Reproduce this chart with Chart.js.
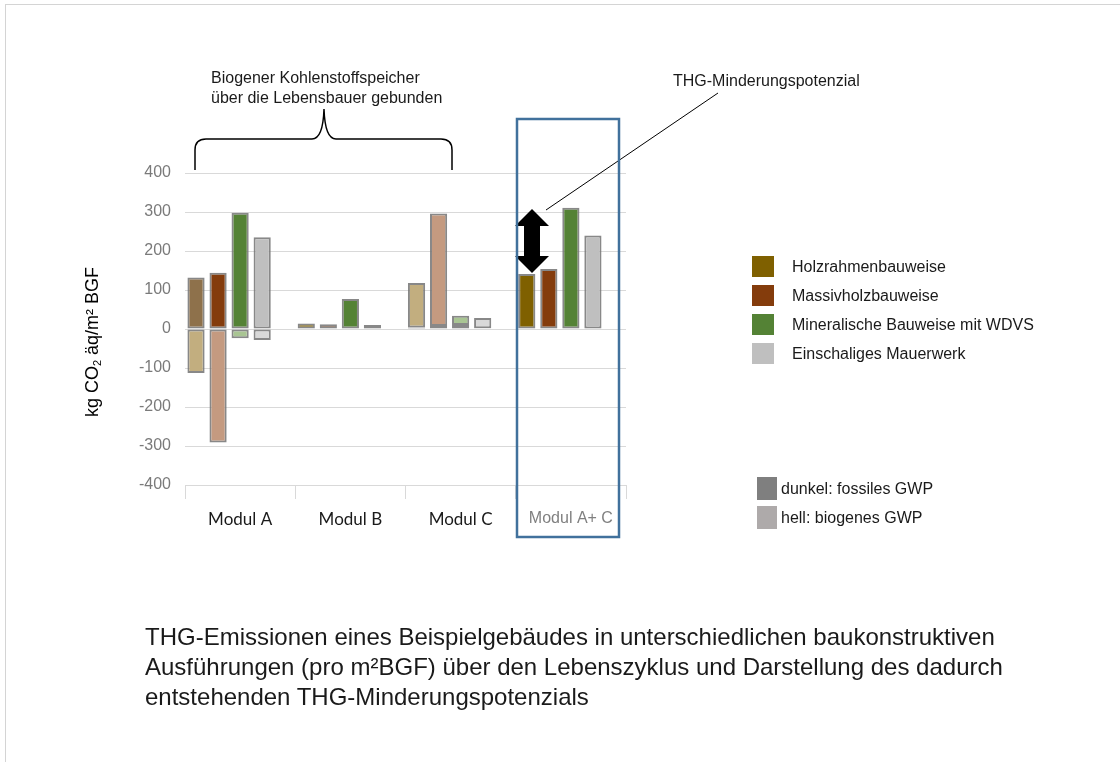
<!DOCTYPE html>
<html lang="de">
<head>
<meta charset="utf-8">
<title>THG-Emissionen Beispielgebäude</title>
<script src="https://cdn.jsdelivr.net/npm/chart.js@4.4.1/dist/chart.umd.min.js"></script>
<style>
  body { margin: 0; background: #fff; font-family: "Liberation Sans", Arial, sans-serif; }
  #wrap { position: relative; width: 1120px; height: 762px; overflow: hidden; }
  #frame { position: absolute; left: 5px; top: 4px; width: 1120px; height: 770px;
           border-top: 1px solid #d4d4d4; border-left: 1px solid #d4d4d4; }
  canvas { position: absolute; left: 0; top: 0; }
  .sw { position: absolute; }
  .lt { position: absolute; font-size: 16px; color: #1a1a1a; line-height: 20px; white-space: nowrap; }
  #caption { position: absolute; left: 145px; top: 622px; font-size: 24px; line-height: 30px; color: #1a1a1a; white-space: nowrap; }
</style>
</head>
<body>
<div id="wrap">
  <div id="frame"></div>
  <canvas id="chart" width="1120" height="762"></canvas>
  <div id="legend"></div>
  <div id="caption">THG-Emissionen eines Beispielgebäudes in unterschiedlichen baukonstruktiven<br>Ausführungen (pro m²BGF) über den Lebenszyklus und Darstellung des dadurch<br>entstehenden THG-Minderungspotenzials</div>
</div>
<script>
// data
var categories = ['Modul A', 'Modul B', 'Modul C', 'Modul A+ C'];
var materials = ['Holzrahmenbauweise', 'Massivholzbauweise', 'Mineralische Bauweise mit WDVS', 'Einschaliges Mauerwerk'];
var gwpKinds = ['dunkel: fossiles GWP', 'hell: biogenes GWP'];

var fossilHolz    = [132, 14, 4, 141];
var biogenHolz    = [-113, null, 114, null];
var fossilMassiv  = [144, 12, 8, 154];
var biogenMassiv  = [-291, null, 288, null];
var fossilMineral = [298, 77, 10, 311];
var biogenMineral = [-24, null, 24, null];
var fossilMauer   = [235, 10, 2, 240];
var biogenMauer   = [-28, null, 26, null];

var yMin = -400, yMax = 400, yStep = 100;

// colours
var darkCols = ['#7f6000', '#843c0c', '#548235', '#bfbfbf'];
var lightCols = ['#c2ae7f', '#c49a80', '#a9c593', '#d9d9d9'];
var holzDarkPerCat = ['#8e714b', '#7f6000', '#7f6000', '#7f6000'];
var edge = 'rgba(115,115,115,0.85)';

function bar(label, data, color, stack) {
  return {
    label: label, data: data, stack: stack,
    backgroundColor: color, borderColor: edge, borderWidth: 2, borderSkipped: false
  };
}

var datasets = [
  bar(materials[0] + ' fossil', fossilHolz, holzDarkPerCat, 'holz'),
  bar(materials[0] + ' biogen', biogenHolz, lightCols[0], 'holz'),
  bar(materials[1] + ' fossil', fossilMassiv, darkCols[1], 'massiv'),
  bar(materials[1] + ' biogen', biogenMassiv, lightCols[1], 'massiv'),
  bar(materials[2] + ' fossil', fossilMineral, darkCols[2], 'mineral'),
  bar(materials[2] + ' biogen', biogenMineral, lightCols[2], 'mineral'),
  bar(materials[3] + ' fossil', fossilMauer, darkCols[3], 'mauer'),
  bar(materials[3] + ' biogen', biogenMauer, lightCols[3], 'mauer'),
  // empty fifth slot, the original keeps a gap after each group
  { label: '', data: [null, null, null, null], stack: 'leer', borderWidth: 0 }
];

Chart.defaults.font.family = "'Liberation Sans', Arial, sans-serif";

var notes = {
  id: 'notes',
  afterDraw: function(chart) {
    var c = chart.ctx;
    c.save();

    // y axis title with subscript
    c.translate(93, 342);
    c.rotate(-Math.PI / 2);
    c.fillStyle = '#000';
    c.textBaseline = 'middle';
    var big = '18px "Liberation Sans", Arial, sans-serif';
    var small = '11px "Liberation Sans", Arial, sans-serif';
    c.font = big;
    var w1 = c.measureText('kg CO').width;
    var w3 = c.measureText(' äq/m² BGF').width;
    c.font = small;
    var w2 = c.measureText('2').width;
    var x0 = -(w1 + w2 + w3) / 2;
    c.font = big;
    c.fillText('kg CO', x0, 0);
    c.font = small;
    c.fillText('2', x0 + w1, 5);
    c.font = big;
    c.fillText(' äq/m² BGF', x0 + w1 + w2, 0);
    c.setTransform(1, 0, 0, 1, 0, 0);

    // curly bracket
    c.strokeStyle = '#000';
    c.lineWidth = 1.5;
    c.beginPath();
    c.moveTo(195, 170);
    c.lineTo(195, 150);
    c.quadraticCurveTo(195, 139, 206, 139);
    c.lineTo(312, 139);
    c.quadraticCurveTo(323, 139, 324, 109);
    c.quadraticCurveTo(325, 139, 336, 139);
    c.lineTo(441, 139);
    c.quadraticCurveTo(452, 139, 452, 150);
    c.lineTo(452, 170);
    c.stroke();

    c.font = '16px "Liberation Sans", Arial, sans-serif';
    c.textBaseline = 'alphabetic';
    c.fillStyle = '#1a1a1a';
    c.fillText('Biogener Kohlenstoffspeicher', 211, 83);
    c.fillText('über die Lebensbauer gebunden', 211, 103);
    c.fillText('THG-Minderungspotenzial', 673, 86);

    // pointer line
    c.lineWidth = 1;
    c.beginPath();
    c.moveTo(546, 210);
    c.lineTo(718, 93);
    c.stroke();

    // double arrow
    c.fillStyle = '#000';
    c.beginPath();
    var pts = [[532,209],[549,226],[540,226],[540,256],[549,256],[532,273],[515,256],[524,256],[524,226],[515,226]];
    c.moveTo(pts[0][0], pts[0][1]);
    for (var i = 1; i < pts.length; i++) c.lineTo(pts[i][0], pts[i][1]);
    c.closePath();
    c.fill();

    // blue frame round A+C
    c.strokeStyle = '#41719c';
    c.lineWidth = 2.5;
    c.strokeRect(517, 119, 102, 418);
    c.restore();
  }
};

var chart = new Chart(document.getElementById('chart').getContext('2d'), {
  type: 'bar',
  data: { labels: categories, datasets: datasets },
  options: {
    responsive: false,
    animation: false,
    devicePixelRatio: 1,
    datasets: { bar: { categoryPercentage: 1.0, barPercentage: 0.78 } },
    layout: { padding: { left: 0, right: 494, top: 173, bottom: 227 } },
    plugins: { legend: { display: false }, tooltip: { enabled: false } },
    scales: {
      x: {
        stacked: true,
        grid: { offset: true, drawOnChartArea: false, drawTicks: true, tickLength: 14, color: '#d9d9d9' },
        border: { display: false },
        ticks: {
          padding: 10,
          color: function(ctx) { return ctx.index === 3 ? '#808080' : '#1a1a1a'; },
          font: function(ctx) { return ctx.index === 3 ? { family: "'Liberation Sans', Arial", size: 16 } : { family: 'Lato', size: 17 }; }
        },
        afterFit: function(s) { s.height = 50; }
      },
      y: {
        stacked: true,
        min: yMin, max: yMax,
        ticks: { stepSize: yStep, padding: 14, color: '#7a7a7a', font: { size: 16 } },
        grid: { color: '#d9d9d9', drawTicks: false },
        border: { display: false },
        afterFit: function(s) { s.width = 185; }
      }
    }
  },
  plugins: [notes]
});

// legends
var leg = document.getElementById('legend');
materials.forEach(function(name, i) {
  var top = 256 + i * 29;
  leg.innerHTML += '<div class="sw" style="left:752px;top:' + top + 'px;width:22px;height:21px;background:' + darkCols[i] + '"></div>' +
    '<div class="lt" style="left:792px;top:' + (top + 1) + 'px">' + name + '</div>';
});
var gwpCols = ['#7f7f7f', '#aeaaaa'];
gwpKinds.forEach(function(name, i) {
  var top = 477 + i * 29;
  leg.innerHTML += '<div class="sw" style="left:757px;top:' + top + 'px;width:20px;height:23px;background:' + gwpCols[i] + '"></div>' +
    '<div class="lt" style="left:781px;top:' + (top + 2) + 'px">' + name + '</div>';
});
</script>
</body>
</html>
